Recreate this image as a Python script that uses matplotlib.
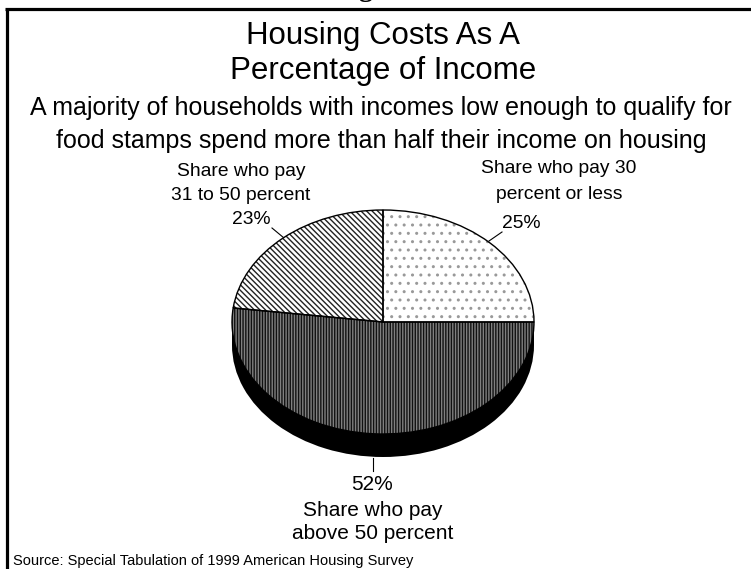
import matplotlib
matplotlib.use("Agg")
import matplotlib.pyplot as plt
from matplotlib.patches import Rectangle

matplotlib.rcParams['font.family'] = ['Liberation Sans', 'DejaVu Sans']
matplotlib.rcParams['hatch.linewidth'] = 1.0

W, H = 751, 569
shares = [25, 52, 23]
share_labels = ["25%", "52%", "23%"]
title_lines = ["Housing Costs As A", "Percentage of Income"]
subtitle_lines = ["A majority of households with incomes low enough to qualify for",
                  "food stamps spend more than half their income on housing"]
label_right = ["Share who pay 30", "percent or less"]
label_bottom = ["Share who pay", "above 50 percent"]
label_left = ["Share who pay", "31 to 50 percent"]
source = "Source: Special Tabulation of 1999 American Housing Survey"

fig = plt.figure(figsize=(W/100, H/100), dpi=100, facecolor='white')

# page coordinates in pixels
page = fig.add_axes([0, 0, 1, 1])
page.set_xlim(0, W); page.set_ylim(H, 0); page.axis('off')
page.plot([6.5, 6.5], [8.5, H], color='k', lw=2.3, solid_capstyle='butt')
page.plot([5, W], [8.5, 8.5], color='k', lw=2.3, solid_capstyle='butt')
page.text(365, -4, "g", fontsize=20, ha='center', va='baseline', family='Liberation Serif', fontweight='bold', clip_on=False)

for y, s in zip([36, 71], title_lines):
    page.text(383, y, s, fontsize=22.5, ha='center', va='center')
for y, s in zip([108, 141], subtitle_lines):
    page.text(381, y, s, fontsize=18.0, ha='center', va='center')

LF = 13.9
for y, s in zip([171.5, 195.5], label_left):
    page.text(241, y, s, fontsize=LF, ha='center', va='center')
page.text(251, 219.5, share_labels[2], fontsize=LF, ha='center', va='center')
for y, s in zip([168.5, 194.5], label_right):
    page.text(559, y, s, fontsize=LF, ha='center', va='center')
page.text(521, 223.5, share_labels[0], fontsize=LF, ha='center', va='center')
page.text(372, 484.5, share_labels[1], fontsize=15, ha='center', va='center')
for y, s in zip([510.5, 533.5], label_bottom):
    page.text(373, y, s, fontsize=15, ha='center', va='center')
page.text(13, 560.5, source, fontsize=10.5, ha='left', va='center')

page.plot([272, 284], [228, 238], color='k', lw=0.8)
page.plot([489, 502], [241, 232], color='k', lw=0.8)
page.plot([373, 373], [458, 471], color='k', lw=0.8)

# pie axes: an ellipse of rx 151 and ry 112 px centred on (383, 322)
depth = 23 / 112
left, right = 383 - 151, 383 + 151
top, bottom = 322 - 112, 322 + 112
ax = fig.add_axes([left / W, 1 - bottom / H, (right - left) / W, (bottom - top) / H])
ax.patch.set_visible(False)

# extruded rim
ax.pie([1], center=(0, -depth), radius=1, colors=['k'], wedgeprops=dict(lw=0))
ax.add_patch(Rectangle((-1, -depth), 2, depth, fc='k', ec='none'))

# hatched fills
fills, _ = ax.pie(shares, startangle=90, counterclock=False, radius=1,
                  colors=['white', '#808080', 'white'], wedgeprops=dict(linewidth=0))
fills[0].set_hatch('..')
fills[0].set_edgecolor('#999999')
fills[1].set_hatch('||||||')
fills[1].set_edgecolor('#111111')
fills[2].set_hatch('\\\\\\\\\\\\')
fills[2].set_edgecolor('#222222')

# outlines
ax.pie(shares, startangle=90, counterclock=False, radius=1,
       colors=['none'] * 3, wedgeprops=dict(edgecolor='k', linewidth=1.0))

ax.set_aspect('auto')
ax.set_xlim(-1, 1); ax.set_ylim(-1, 1)
ax.axis('off')
for c in ax.patches:
    c.set_clip_on(False)

fig.savefig('out.png', dpi=100, facecolor='white')
